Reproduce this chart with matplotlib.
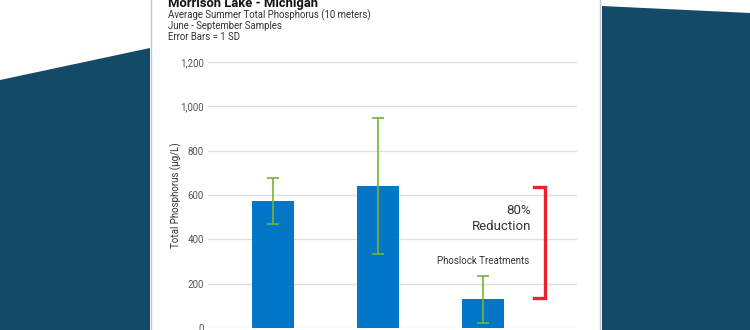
import matplotlib
matplotlib.use("Agg")
import matplotlib.pyplot as plt
from matplotlib.patches import Polygon, Rectangle

plt.rcParams["font.family"] = ["Roboto", "DejaVu Sans"]

# Data
positions = [0, 1, 2]
means = [572, 641, 129]
sds = [105, 305, 107]
y_ticks = [0, 200, 400, 600, 800, 1000, 1200]
y_tick_labels = ["0", "200", "400", "600", "800", "1,000", "1,200"]
bracket_top = 634
bracket_bottom = 135

W, H = 750, 330
NAVY = "#134a68"
BAR_BLUE = "#0476c8"
ERR_GREEN = "#76b33c"
RED = "#ec2030"

fig = plt.figure(figsize=(W / 100, H / 100), dpi=100)
fig.patch.set_facecolor("white")

# Background layer in pixel coordinates (y downwards)
bg = fig.add_axes([0, 0, 1, 1])
bg.set_xlim(0, W)
bg.set_ylim(H, 0)
bg.axis("off")
bg.add_patch(Polygon([(0, 80), (150, 48), (150, H), (0, H)], color=NAVY, lw=0))
bg.add_patch(Polygon([(602, 6), (W, 13), (W, H), (602, H)], color=NAVY, lw=0))
bg.add_patch(Rectangle((151, -10), 449, H + 20, facecolor="white",
                       edgecolor="#c4c4c4", lw=1))

bg.text(168, 6.5, "Morrison Lake - Michigan", fontsize=9.4, fontweight="bold",
        color="#111111", va="baseline")
subtitle = ["Average Summer Total Phosphorus (10 meters)",
            "June - September Samples",
            "Error Bars = 1 SD"]
for i, line in enumerate(subtitle):
    bg.text(168, 18.3 + 11 * i, line, fontsize=6.9, color="#333333", va="baseline")

# Main chart
ax = fig.add_axes([208 / W, 2 / H, 369 / W, 266 / H])
ax.bar(positions, means, width=0.4, color=BAR_BLUE, zorder=2)
ax.errorbar(positions, means, yerr=sds, fmt="none", ecolor=ERR_GREEN,
            elinewidth=1.2, capsize=4, capthick=1.2, zorder=3)

ax.set_xlim(-0.62, 2.9)
ax.set_ylim(0, 1200)
ax.set_yticks(y_ticks)
ax.set_yticklabels(y_tick_labels)
ax.set_xticks([])
ax.tick_params(axis="y", length=0, pad=3, labelsize=7, labelcolor="#555555")
ax.grid(axis="y", color="#dedede", lw=1, zorder=0)
for s in ax.spines.values():
    s.set_visible(False)
ax.set_ylabel("Total Phosphorus (µg/L)", fontsize=7, color="#333333")
ax.yaxis.set_label_coords(-0.07, 0.5)

# Reduction bracket
bx, arm = 2.59, 2.49
ax.plot([arm, bx, bx, arm], [bracket_top, bracket_top, bracket_bottom, bracket_bottom],
        color=RED, lw=2.4, solid_joinstyle="miter", clip_on=False, zorder=4)
ax.text(2.46, 494, "80%\nReduction", ha="right", va="center", fontsize=9.5,
        color="#333333", linespacing=1.35)
ax.text(2.0, 302, "Phoslock Treatments", ha="center", va="center", fontsize=7,
        color="#333333")

fig.savefig("out.png", dpi=100)
